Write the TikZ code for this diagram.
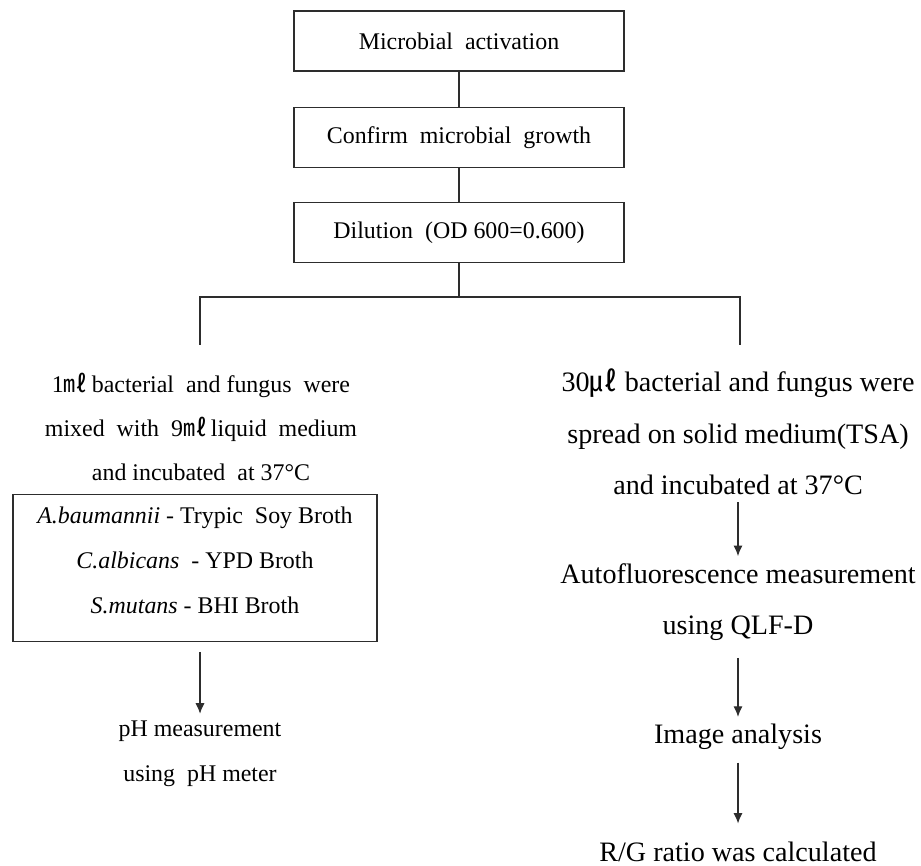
\documentclass[tikz,border=0pt]{standalone}
\usepackage{fontspec}
\setmainfont{Liberation Serif}
\newfontfamily\cjkfont{Noto Sans CJK KR}
\usetikzlibrary{arrows.meta, positioning}
\definecolor{linegray}{RGB}{45,45,45}
\newcommand{\mlsym}{{\cjkfont ㎖}}
\newcommand{\ulsym}{{\cjkfont ㎕}}

\begin{document}
\begin{tikzpicture}[
    x=0.025cm, y=-0.025cm,
    node distance=0.875cm,
    box/.style={draw=linegray, line width=0.9pt, minimum width=8.25cm, minimum height=1.5cm, font=\fontsize{17}{20}\selectfont, align=center},
    lefttext/.style={font=\fontsize{17}{31.5}\selectfont, align=center, inner sep=5pt},
    mediabox/.style={lefttext, draw=linegray, line width=0.9pt, minimum width=9.1cm, minimum height=3.675cm, text depth=11pt, font=\fontsize{17}{32}\selectfont},
    righttext/.style={font=\fontsize{20}{36.5}\selectfont, align=center, inner sep=5pt},
    link/.style={draw=linegray, line width=0.9pt},
    arrow/.style={link, -{Latex[length=7.5pt, width=6.5pt]}},
  ]
  \useasboundingbox (0,0) rectangle (921,866);
  % main chain
  \node[box] (activ) at (459,41) {Microbial~ activation};
  \node[box, below=of activ] (growth) {Confirm~ microbial~ growth};
  \node[box, below=0.85cm of growth] (dilut) {Dilution~ (OD 600=0.600)};
  \draw[link] (activ) -- (growth);
  \draw[link] (growth) -- (dilut);
  % split into two branches
  \coordinate (split) at (459,297);
  \coordinate (leftend) at (200,345);
  \coordinate (rightend) at (740,345);
  \draw[link] (dilut) -- (split);
  \draw[link] (leftend) |- (split) -| (rightend);
  % left branch: liquid medium
  \node[lefttext] (liquid) at (201,427) {1\mlsym\,bacterial~ and fungus~ were\\mixed~ with~ 9\mlsym\,liquid~ medium\\and incubated~ at 37°C};
  \node[mediabox] (media) at (195,568) {\textit{A.baumannii} - Trypic~ Soy Broth\\\textit{C.albicans} ~- YPD Broth\\\textit{S.mutans} - BHI Broth};
  \node[lefttext, font=\fontsize{17}{32}\selectfont] (phmeas) at (200,754) {pH measurement\\using~ pH meter};
  \draw[arrow, shorten <=7pt] (media.south -| phmeas) -- (phmeas);
  % right branch: solid medium
  \node[righttext] (solid) at (738,432) {30\ulsym{} bacterial and fungus were\\spread on solid medium(TSA)\\and incubated at 37°C};
  \node[righttext] (autofl) at (738,602) {Autofluorescence measurement\\using QLF-D};
  \node[righttext] (imgan) at (738,737) {Image analysis};
  \node[righttext] (ratio) at (738,852) {R/G ratio was calculated};
  \draw[arrow] (solid) -- (autofl);
  \draw[arrow, shorten <=7pt] (autofl) -- (imgan);
  \draw[arrow, shorten <=4pt, shorten >=8pt] (imgan) -- (ratio);
\end{tikzpicture}
\end{document}
